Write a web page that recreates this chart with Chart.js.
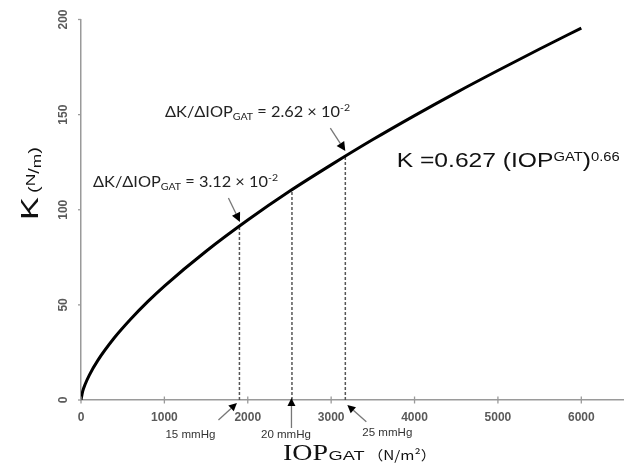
<!DOCTYPE html>
<html>
<head>
<meta charset="utf-8">
<script src="https://cdn.jsdelivr.net/npm/chart.js@4"></script>
<style>
html,body{margin:0;padding:0;background:#fff;}
#wrap{width:634px;height:465px;position:relative;}
</style>
</head>
<body>
<div id="wrap"><canvas id="c" width="634" height="465"></canvas></div>
<script>
// ---- data ----
const iopValues = [0, 20, 50, 100, 200, 400, 600, 800, 1000, 1500, 2000, 2500, 3000, 3500, 4000, 4500, 5000, 5500, 6000];
const kValues   = [0, 4.5, 8.3, 13.1, 20.7, 32.7, 42.7, 51.7, 59.9, 78.2, 94.6, 109.7, 123.6, 136.9, 149.5, 161.6, 173.2, 184.5, 195.5];
const xTickValues = [0, 1000, 2000, 3000, 4000, 5000, 6000];
const yTickValues = [0, 50, 100, 150, 200];
const pressureLabels = ['15 mmHg', '20 mmHg', '25 mmHg'];
const pressureIOP = [1900, 2530, 3170];
const pressureK = [91.5, 110.5, 128.2];
const slopeValues = ['3.12', '2.62'];
const fitCoef = '0.627';
const fitExp = '0.66';

const AXIS_COLOR = '#9a9a9a';
const TICK_COLOR = '#5a5a5a';

function richText(ctx, segs, x, y, opts) {
  opts = opts || {};
  let total = 0;
  const widths = segs.map(s => { ctx.font = s.font; const w = ctx.measureText(s.t).width; total += w; return w; });
  const sx = opts.width ? opts.width / total : 1;
  const drawn = total * sx;
  let start = x;
  if (opts.align === 'right') start = x - drawn;
  else if (opts.align === 'center') start = x - drawn / 2;
  ctx.save();
  ctx.translate(start, y);
  ctx.scale(sx, 1);
  ctx.fillStyle = opts.color || '#000';
  ctx.textBaseline = 'alphabetic';
  ctx.textAlign = 'left';
  let cx = 0;
  segs.forEach((s, i) => { ctx.font = s.font; ctx.fillText(s.t, cx, s.dy || 0); cx += widths[i]; });
  ctx.restore();
}

function arrow(ctx, x1, y1, x2, y2, shaftColor, headColor, headLen, headW) {
  const ang = Math.atan2(y2 - y1, x2 - x1);
  const bx = x2 - headLen * Math.cos(ang), by = y2 - headLen * Math.sin(ang);
  ctx.save();
  ctx.strokeStyle = shaftColor; ctx.lineWidth = 1.3;
  ctx.beginPath(); ctx.moveTo(x1, y1); ctx.lineTo(bx, by); ctx.stroke();
  ctx.fillStyle = headColor;
  ctx.beginPath();
  ctx.moveTo(x2, y2);
  ctx.lineTo(bx + headW * Math.sin(ang), by - headW * Math.cos(ang));
  ctx.lineTo(bx - headW * Math.sin(ang), by + headW * Math.cos(ang));
  ctx.closePath(); ctx.fill();
  ctx.restore();
}

const decorPlugin = {
  id: 'decor',
  afterDraw(chart) {
    const ctx = chart.ctx;
    const xs = chart.scales.x, ys = chart.scales.y;
    const ca = chart.chartArea;
    ctx.save();
    // y tick marks + rotated labels
    ctx.strokeStyle = AXIS_COLOR; ctx.lineWidth = 1.3;
    ys.ticks.forEach(t => {
      const py = ys.getPixelForValue(t.value);
      ctx.beginPath(); ctx.moveTo(ca.left - 3, py); ctx.lineTo(ca.left, py); ctx.stroke();
      ctx.save();
      ctx.translate(66.5, py);
      ctx.rotate(-Math.PI / 2);
      richText(ctx, [{t: String(t.value), font: 'bold 13px "Liberation Sans"'}], 0, 0, {align: 'center', width: String(t.value).length * 6.7, color: TICK_COLOR});
      ctx.restore();
    });
    // x tick marks crossing the axis
    xs.ticks.forEach(t => {
      const px = xs.getPixelForValue(t.value);
      ctx.beginPath(); ctx.moveTo(px, ca.bottom - 3.5); ctx.lineTo(px, ca.bottom + 3.5); ctx.stroke();
    });
    // y axis title (rotated)
    ctx.save();
    ctx.translate(37.5, 220);
    ctx.rotate(-Math.PI / 2);
    richText(ctx, [{t: 'K', font: '23px "Liberation Sans"'}], 0, 0, {width: 23, color: '#111'});
    richText(ctx, [
      {t: '(', font: '15px "Liberation Sans"'},
      {t: 'N', font: '13px "Liberation Sans"', dy: -4},
      {t: '/', font: '15px "Liberation Sans"'},
      {t: 'm', font: '13px "Liberation Sans"', dy: 2},
      {t: ')', font: '15px "Liberation Sans"'}
    ], 27, 1, {width: 46, color: '#111'});
    ctx.restore();
    // x axis title
    richText(ctx, [{t: 'IOP', font: '23px "Liberation Serif"'}], 283, 460, {width: 45, color: '#111'});
    richText(ctx, [{t: 'GAT', font: '13px "Liberation Sans"'}], 328.5, 460, {width: 36, color: '#111'});
    richText(ctx, [{t: '（N/m²）', font: '13px "Noto Sans CJK JP"'}], 368, 460, {width: 68, color: '#111'});

    // mmHg arrows and labels
    const axisY = ca.bottom;
    const mm = pressureIOP.map(v => xs.getPixelForValue(v));
    arrow(ctx, mm[0] - 21, axisY + 20, mm[0] - 2.5, axisY + 3, '#777', '#000', 8, 4);
    arrow(ctx, mm[1] - 0.5, axisY + 28, mm[1] - 0.5, axisY - 2, '#777', '#000', 8, 4);
    arrow(ctx, mm[2] + 21, axisY + 21.7, mm[2] + 2, axisY + 5, '#777', '#000', 8, 4);
    const lblX = [mm[0] - 49, mm[1] - 6, mm[2] + 42];
    const lblY = [axisY + 38, axisY + 38, axisY + 35.7];
    pressureLabels.forEach((s, i) => {
      richText(ctx, [{t: s, font: '11px "Liberation Sans"'}], lblX[i], lblY[i], {align: 'center', width: 50, color: '#333'});
    });

    // slope annotations
    const p0x = xs.getPixelForValue(pressureIOP[0]), p0y = ys.getPixelForValue(pressureK[0]);
    const p2x = xs.getPixelForValue(pressureIOP[2]), p2y = ys.getPixelForValue(pressureK[2]);
    arrow(ctx, p0x - 11, p0y - 28, p0x + 0.5, p0y - 4, '#777', '#000', 9, 4.5);
    arrow(ctx, p2x - 15, p2y - 28, p2x, p2y - 5, '#777', '#000', 9, 4.5);
    const slopeSegs = v => [
      {t: 'ΔK/ΔIOP', font: '15.5px Lato'},
      {t: 'GAT', font: '10px Lato', dy: 3},
      {t: ' = ' + v + ' × 10', font: '15.5px Lato'},
      {t: '-2', font: '10px Lato', dy: -6}
    ];
    richText(ctx, slopeSegs(slopeValues[0]), 278, 186.7, {align: 'right', width: 185, color: '#222'});
    richText(ctx, slopeSegs(slopeValues[1]), 165, 116.7, {align: 'left', width: 185, color: '#222'});

    // fitted formula
    richText(ctx, [
      {t: 'K =' + fitCoef + ' (IOP', font: '20px "Liberation Sans"'},
      {t: 'GAT', font: '12px "Liberation Sans"', dy: -6},
      {t: ')', font: '20px "Liberation Sans"'},
      {t: fitExp, font: '12px "Liberation Sans"', dy: -6}
    ], 396.7, 166.7, {width: 223, color: '#111'});
    ctx.restore();
  }
};

const curveData = iopValues.map((x, i) => ({x: x, y: kValues[i]}));
const dashSets = pressureIOP.map((x, i) => ({
  data: [{x: x, y: 0}, {x: x, y: pressureK[i]}],
  borderColor: '#555',
  borderWidth: 1.5,
  borderDash: [3, 2],
  pointRadius: 0,
  fill: false
}));

new Chart(document.getElementById('c'), {
  type: 'line',
  data: {
    datasets: [{
      data: curveData,
      borderColor: '#000',
      borderWidth: 3,
      pointRadius: 0,
      cubicInterpolationMode: 'monotone',
      fill: false
    }].concat(dashSets)
  },
  options: {
    responsive: false,
    animation: false,
    devicePixelRatio: 1,
    layout: {padding: {top: 19.5, right: 11, left: 0, bottom: 0}},
    plugins: {legend: {display: false}, tooltip: {enabled: false}},
    scales: {
      x: {
        type: 'linear',
        min: 0, max: 6500,
        afterBuildTicks: s => { s.ticks = xTickValues.map(v => ({value: v})); },
        afterFit: s => { s.height = 65; },
        grid: {display: false, drawTicks: false},
        border: {display: true, color: AXIS_COLOR, width: 1.5},
        ticks: {
          padding: 10, color: TICK_COLOR,
          font: {family: 'Liberation Sans', size: 12, weight: 'bold'},
          maxRotation: 0, autoSkip: false,
          callback: v => String(v)
        }
      },
      y: {
        type: 'linear',
        min: 0, max: 200,
        afterBuildTicks: s => { s.ticks = yTickValues.map(v => ({value: v})); },
        afterFit: s => { s.width = 81; },
        grid: {display: false, drawTicks: false},
        border: {display: true, color: AXIS_COLOR, width: 1.5},
        ticks: {display: false}
      }
    }
  },
  plugins: [decorPlugin]
});
</script>
</body>
</html>
